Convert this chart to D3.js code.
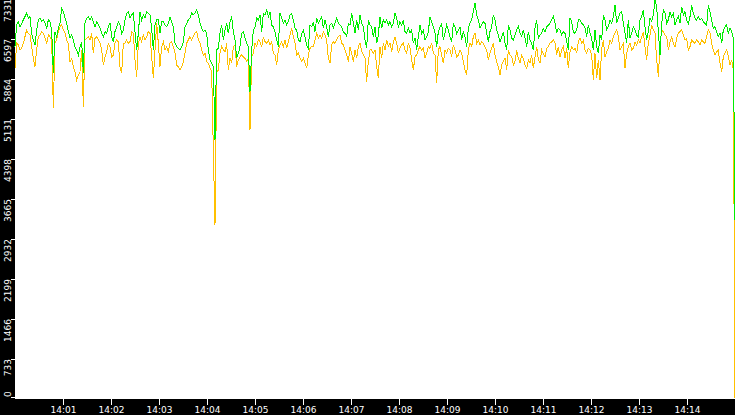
<!DOCTYPE html>
<html>
<head>
<meta charset="utf-8">
<script src="https://cdn.jsdelivr.net/npm/d3@7"></script>
<style>
  body { margin: 0; background: #000; }
  svg { display: block; }
  .lbl { font-family: "DejaVu Sans", sans-serif; font-size: 9px; fill: #fff; }
</style>
</head>
<body>
<div id="chart"></div>
<script>
// samples evenly spaced from 14:00:00 to 14:15:00
const maxSeries = [
  6458, 6855, 6916, 6824, 6885, 6947, 7008, 7069, 6977, 7008,
  6702, 6580, 6488, 6763, 6947, 6977, 6916, 6947, 6885, 6794,
  6947, 6916, 6763, 5969, 6733, 6641, 6794, 6885, 7160, 7099,
  6977, 6885, 6733, 6610, 6671, 6580, 6458, 6397, 6305, 6458,
  6549, 5969, 6885, 6977, 7008, 6947, 7008, 6916, 6824, 6916,
  6855, 6794, 6702, 6641, 6733, 6702, 6824, 6885, 6641, 6549,
  6733, 6824, 6916, 6855, 6702, 6763, 6947, 7069, 7099, 6977,
  7038, 7069, 6733, 6397, 6702, 7099, 6947, 7038, 6977, 7099,
  7069, 7038, 6794, 6397, 6855, 6947, 6947, 6702, 6916, 6916,
  6855, 6824, 6885, 7008, 6916, 6824, 6519, 6458, 6427, 6397,
  6458, 6549, 6824, 6885, 6947, 6977, 7069, 7038,
  7069, 7130, 7038, 6885, 6794, 6733, 6763, 6702, 6397, 6213,
  6152, 6091, 4747, 6397, 6427, 6702, 6855, 6580, 6763, 6885,
  6702, 6916, 7008, 6733, 6580, 6244, 6335, 6458, 6702, 6733,
  6610, 6519, 6458, 5627, 6397, 6763, 6824, 6977, 6947, 7038,
  6733, 7069, 7038, 7130, 7008, 7099, 6855, 6824, 6733, 6580,
  6458, 7069, 6977, 6885, 6947, 6855, 6916, 7038, 7069, 6947,
  6794, 6763, 6580, 6549, 6702, 6763, 6641, 6488, 6427, 6855,
  6824, 6916, 6733, 6977, 6885, 6947, 7008, 6794, 6947, 6824,
  6641, 6855, 6885, 6794, 6885, 6977, 6885, 6855, 6824, 6733,
  6702, 6641, 6885, 6855, 7069, 6885, 6702, 6947, 6763, 7038,
  6885, 6824, 6580, 6427, 6947, 6855, 6824, 6641,
  6824, 6519, 6671, 7008, 6794, 6947, 6885, 6947, 6855, 6916,
  6824, 6885, 7069, 6977, 6824, 6916, 6855, 6947, 6733, 6702,
  6794, 6702, 6763, 6519, 6610, 6397, 6641, 6855, 6702, 6763,
  6580, 6641, 6733, 7008, 6916, 6824, 6702, 6458, 6733, 6824,
  6885, 6580, 6702, 6855, 6763, 6641, 6549, 6885, 6824, 6702,
  6763, 6824, 6580, 6733, 6641, 6458, 6794, 6885, 6947, 7099,
  7252, 7038, 6947, 6794, 6855, 6916, 6885, 6702, 6549, 6733,
  6824, 7038, 6947, 6763, 6671, 6549, 6641, 6733, 6519, 6397,
  6855, 6763, 6610, 6580, 6671, 6763, 6824, 6702, 6641, 6763,
  6610, 6458, 6733, 6580, 6519, 6397, 6794, 6947, 6610, 6671,
  6702, 6794, 6733, 6824, 6855, 6885, 6947, 7008,
  6885, 6702, 6794, 6763, 6671, 6733, 6702, 6549, 6397, 6977,
  6916, 6733, 6702, 6763, 6947, 6947, 6885, 6855, 6794, 6641,
  6855, 6702, 6610, 6397, 6763, 6458, 6335, 6671, 6580, 7038,
  6947, 6763, 6824, 6947, 6885, 7008, 7221, 6885, 6977, 7069,
  7099, 6885, 6702, 6519, 6947, 6610, 6702, 6824, 6763, 6671,
  6641, 6947, 7008, 7130, 6824, 6580, 6733, 6977, 6916, 7038,
  7313, 7191, 6733, 6305, 6885, 7130, 7069, 6885, 6947, 7099,
  7008, 7069, 6855, 6947, 7008, 6885, 7191, 7038, 7099, 6947,
  6885, 7008, 7221, 7069, 6977, 6947, 7008, 6947, 6977, 6916,
  6885, 6855, 7221, 7099, 6947, 6794, 6824, 6733, 6641, 6702,
  6519, 6763, 6824, 6855, 6702, 6794, 6733, 6610,
  3280
];

const avgSeries = [
  6060, 6519, 6488, 6397, 6427, 6519, 6641, 6763, 6702, 6671,
  6458, 6244, 6091, 6397, 6641, 6671, 6733, 6702, 6610, 6519,
  6671, 6641, 6580, 5333, 6519, 6580, 6733, 6824, 6855, 6763,
  6702, 6580, 6519, 6183, 6244, 6091, 5999, 5847, 5938, 5999,
  6397, 5352, 6580, 6610, 6641, 6580, 6702, 6335, 6610, 6641,
  6580, 6519, 6397, 6122, 6274, 6366, 6519, 6458, 6274, 6305,
  6519, 6580, 6549, 6091, 5969, 6519, 6519, 6580, 6519, 6549,
  6733, 6702, 6213, 5908, 6519, 6641, 6549, 6671, 6580, 6641,
  6733, 6702, 6274, 5877, 6397, 6885, 6519, 6091, 6458, 6549,
  6397, 6458, 6366, 6519, 6549, 6458, 6335, 6122, 6091, 6030,
  6091, 6183, 6335, 6519, 6580, 6641, 6580, 6641,
  6702, 6733, 6580, 6519, 6397, 6305, 6335, 6183, 6152, 6060,
  5999, 4564, 3189, 5999, 6030, 6335, 6458, 6397, 6366, 6519,
  6030, 6244, 6152, 6458, 6488, 6091, 6213, 6274, 6305, 6274,
  6244, 6183, 6244, 4930, 6274, 6335, 6519, 6458, 6580, 6549,
  6458, 6641, 6549, 6519, 6580, 6488, 6549, 6335, 6305, 6122,
  6397, 6488, 6549, 6458, 6580, 6427, 6549, 6671, 6794, 6641,
  6519, 6305, 6335, 6244, 6183, 6244, 6152, 6060, 6305, 6427,
  6458, 6458, 6580, 6702, 6610, 6671, 6610, 6733, 6671, 6580,
  6244, 6152, 6488, 6549, 6519, 6580, 6641, 6671, 6519, 6488,
  6397, 6305, 6183, 6458, 6335, 6183, 6397, 6244, 6458, 6519,
  6366, 6305, 6244, 5816, 6183, 6397, 6397, 6335,
  6397, 6091, 5877, 6458, 6244, 6519, 6397, 6580, 6458, 6519,
  6366, 6549, 6641, 6519, 6335, 6427, 6488, 6519, 6397, 6335,
  6519, 6427, 6213, 6030, 6274, 6305, 6397, 6458, 6397, 6427,
  6244, 6335, 6458, 6427, 6519, 6335, 6305, 5786, 6397, 6458,
  6305, 6152, 6397, 6335, 6427, 6397, 6274, 6488, 6397, 6274,
  6305, 6397, 6335, 6183, 6030, 5938, 6397, 6519, 6458, 6641,
  6702, 6519, 6580, 6488, 6549, 6519, 6458, 6397, 6213, 6335,
  6427, 6519, 6305, 6183, 6091, 5938, 6122, 6183, 6244, 6030,
  6397, 6305, 6274, 6122, 6183, 6397, 6244, 6152, 6305, 6244,
  6122, 6060, 6213, 6152, 6305, 6060, 6274, 6458, 6213, 6152,
  6397, 6335, 6274, 6427, 6458, 6519, 6549, 6580,
  6519, 6305, 6458, 6274, 6397, 6458, 6244, 6427, 6060, 6366,
  6458, 6397, 6427, 6335, 6549, 6610, 6519, 6580, 6397, 6335,
  6427, 6397, 6305, 5847, 6335, 5877, 6213, 5847, 6427, 6580,
  6274, 6366, 6427, 6580, 6519, 6641, 6702, 6763, 6641, 6397,
  6458, 6519, 6060, 6335, 6458, 6519, 6397, 6427, 6549, 6488,
  6580, 6519, 6641, 6733, 6458, 6213, 6519, 6671, 6855, 6763,
  6702, 6213, 5908, 6488, 6763, 6733, 6671, 6641, 6397, 6549,
  6641, 6519, 6458, 6610, 6702, 6733, 6763, 6671, 6580, 6610,
  6397, 6458, 6580, 6549, 6519, 6580, 6549, 6488, 6580, 6549,
  6519, 6641, 6763, 6702, 6519, 6397, 6305, 6366, 6397, 6152,
  5999, 6274, 6335, 6397, 6274, 6122, 6213, 6030,
  18
];

const yTickLabels = ["0", "733", "1466", "2199", "2932", "3665", "4398", "5131", "5864", "6597", "7331"];
const xTickLabels = ["14:01", "14:02", "14:03", "14:04", "14:05", "14:06", "14:07",
  "14:08", "14:09", "14:10", "14:11", "14:12", "14:13", "14:14"];

const width = 735;
const height = 415;
const plot = { left: 15, right: 735, top: -1, bottom: 399 };

const parseTime = d3.timeParse("%H:%M:%S");
const t0 = parseTime("14:00:00");
const t1 = parseTime("14:15:00");
const stepMs = (t1 - t0) / (maxSeries.length - 1);
const timeAt = i => new Date(t0.getTime() + i * stepMs);

const svg = d3.select('#chart')
  .append('svg')
  .attr('width', width)
  .attr('height', height);

svg.append('rect')
  .attr('width', width).attr('height', height)
  .attr('fill', '#000');

svg.append('rect')
  .attr('x', plot.left).attr('y', 0)
  .attr('width', plot.right - plot.left).attr('height', plot.bottom)
  .attr('fill', '#fff');

const x = d3.scaleTime()
  .domain([t0, t1])
  .range([plot.left, plot.right]);

const y = d3.scaleLinear()
  .domain([0, 7331])
  .range([plot.bottom, plot.top]);

const line = d3.line()
  .x((d, i) => x(timeAt(i)))
  .y(d => y(d));

// orange first, green drawn over it
svg.append('path')
  .datum(avgSeries)
  .attr('d', line)
  .attr('fill', 'none')
  .attr('stroke', '#ffc000')
  .attr('stroke-width', 1)
  .attr('shape-rendering', 'crispEdges');

svg.append('path')
  .datum(maxSeries)
  .attr('d', line)
  .attr('fill', 'none')
  .attr('stroke', '#00ee00')
  .attr('stroke-width', 1)
  .attr('shape-rendering', 'crispEdges');

// y axis: rotated labels on the black strip
const yAxis = svg.append('g');
yTickLabels.forEach(lbl => {
  const v = +lbl;
  const yy = v === 0 ? plot.bottom - 2 : y(v);
  yAxis.append('line')
    .attr('x1', 11).attr('x2', plot.left)
    .attr('y1', Math.round(yy) + 0.5).attr('y2', Math.round(yy) + 0.5)
    .attr('stroke', '#fff');
  yAxis.append('text')
    .attr('class', 'lbl')
    .attr('transform', `translate(10.5,${yy}) rotate(-90)`)
    .attr('text-anchor', v === 0 ? 'start' : 'end')
    .text(lbl);
});

// x axis on the bottom strip
const xAxis = svg.append('g');
xTickLabels.forEach(lbl => {
  const xx = Math.round(x(parseTime(lbl + ":00"))) + 0.5;
  xAxis.append('line')
    .attr('x1', xx).attr('x2', xx)
    .attr('y1', plot.bottom).attr('y2', plot.bottom + 6)
    .attr('stroke', '#fff');
  xAxis.append('text')
    .attr('class', 'lbl')
    .attr('x', xx).attr('y', 413)
    .attr('text-anchor', 'middle')
    .text(lbl);
});
</script>
</body>
</html>
